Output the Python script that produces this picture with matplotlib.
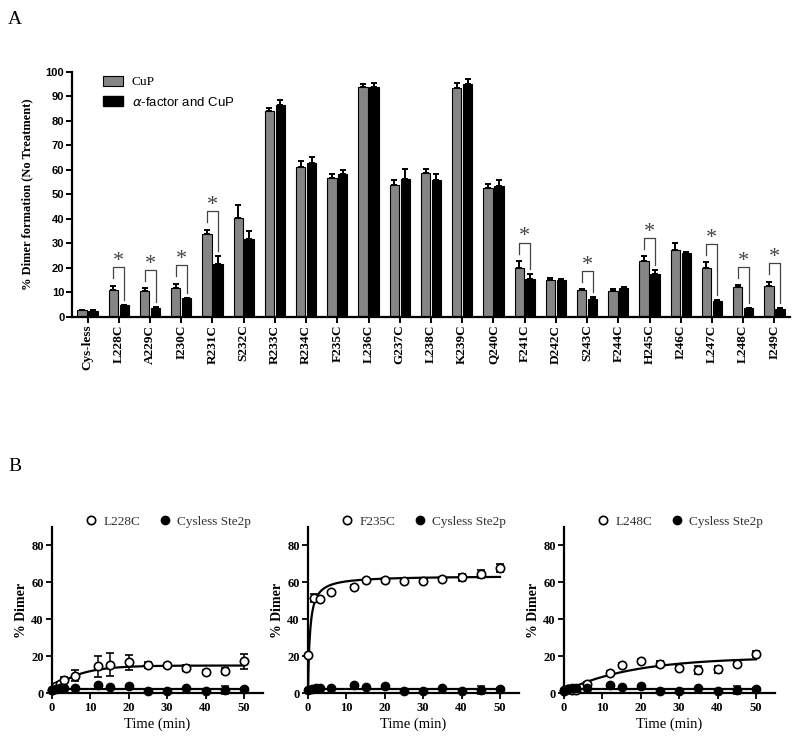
import numpy as np
import matplotlib
matplotlib.use('Agg')
import matplotlib.pyplot as plt
from matplotlib.patches import Patch
from matplotlib.lines import Line2D

# ---------------- Panel A data ----------------
mutants = ["Cys-less", "L228C", "A229C", "I230C", "R231C", "S232C", "R233C",
           "R234C", "F235C", "L236C", "G237C", "L238C", "K239C", "Q240C",
           "F241C", "D242C", "S243C", "F244C", "H245C", "I246C", "L247C",
           "L248C", "I249C"]
cup = [2.7, 11.2, 10.5, 12.0, 33.8, 40.2, 84.0, 61.3, 56.6, 93.7, 54.0, 58.6,
       93.3, 52.6, 20.2, 15.1, 11.0, 10.8, 22.9, 27.5, 19.8, 12.1, 12.5]
cup_err = [0.3, 1.6, 1.3, 1.6, 1.9, 5.7, 1.1, 2.2, 1.8, 1.4, 1.9, 1.9,
           2.0, 1.6, 2.7, 0.8, 0.4, 0.7, 2.0, 2.6, 2.6, 0.8, 1.9]
alpha_cup = [2.6, 4.8, 3.8, 7.6, 21.5, 31.7, 86.7, 62.9, 58.2, 93.7, 56.4, 56.1,
             95.1, 53.4, 15.5, 15.3, 7.2, 11.7, 17.4, 26.0, 6.5, 3.5, 3.4]
alpha_err = [0.3, 0.3, 0.3, 0.3, 3.5, 3.2, 1.9, 2.2, 1.8, 1.8, 3.8, 2.2,
             1.9, 2.5, 2.0, 0.3, 0.8, 0.4, 1.8, 0.7, 0.5, 0.3, 0.3]
significant = ["L228C", "A229C", "I230C", "R231C", "F241C", "S243C",
               "H245C", "L247C", "L248C", "I249C"]

# ---------------- Panel B data ----------------
times = [0, 1, 2, 3, 6, 12, 15, 20, 25, 30, 35, 40, 45, 50]
l228c = [1.8, 4.0, 4.9, 7.2, 9.4, 14.5, 15.4, 16.8, 15.4, 15.5, 13.6, 11.4, 12.1, 17.2]
l228c_err = [0.5, 0.8, 1.0, 1.5, 3.0, 5.5, 6.3, 4.0, 1.5, 0.5, 1.5, 1.0, 1.5, 4.0]
times_f235 = [0, 1.5, 3, 6, 12, 15, 20, 25, 30, 35, 40, 45, 50]
f235c = [20.8, 51.5, 51.0, 54.7, 57.5, 61.2, 61.4, 60.9, 60.5, 62.0, 62.7, 64.5, 67.8]
f235c_err = [0.5, 2.0, 0.8, 0.8, 1.0, 0.8, 0.8, 1.5, 0.8, 0.8, 2.0, 2.0, 2.0]
l248c = [1.4, 2.2, 1.6, 1.8, 5.1, 10.8, 15.5, 17.7, 15.9, 13.6, 12.6, 13.0, 15.9, 21.1]
l248c_err = [0.5, 0.5, 0.5, 0.5, 0.8, 1.0, 0.8, 0.8, 1.5, 1.0, 2.0, 2.0, 0.8, 1.5]
cysless = [1.8, 2.2, 2.7, 2.7, 2.7, 4.3, 3.4, 4.0, 1.3, 1.1, 2.7, 1.3, 1.8, 2.3]
cysless_err = [0.3, 0.3, 0.3, 0.3, 0.3, 0.5, 0.4, 0.4, 0.3, 0.3, 0.4, 0.3, 2.0, 0.4]
cysless_level = 2.5
# fitted-curve parameters
l228c_fit = dict(y0=1.5, plateau=15.0, k=0.15)      # one-phase association
f235c_fit = dict(bmax=63.5, kd=0.5)                 # hyperbola
l248c_fit = dict(y0=1.0, plateau=19.5, k=0.0555)    # one-phase association

SERIF = 'Liberation Serif'
SANS = 'Liberation Sans'

fig = plt.figure(figsize=(8.0, 7.45), dpi=100)

# ================= Panel A =================
ax = fig.add_axes([0.09, 0.5745, 0.8975, 0.3289])
x = np.arange(len(mutants))
off = 0.175
w = 0.30
ax.bar(x - off, cup, width=w, color='#858585', edgecolor='black', linewidth=0.8,
       yerr=[np.zeros(len(cup)), cup_err], capsize=2.5,
       error_kw=dict(elinewidth=1.4, capthick=1.4, ecolor='black'), zorder=2)
ax.bar(x + off, alpha_cup, width=w, color='black', edgecolor='black', linewidth=0.8,
       yerr=[np.zeros(len(alpha_cup)), alpha_err], capsize=2.5,
       error_kw=dict(elinewidth=1.4, capthick=1.4, ecolor='black'), zorder=2)

for name in significant:
    i = mutants.index(name)
    g = cup[i] + cup_err[i]
    b = alpha_cup[i] + alpha_err[i]
    top = g + 7.5
    ax.plot([i - off, i - off, i + off, i + off], [g + 3.0, top, top, b + 2.0],
            color='#444444', lw=0.9, zorder=3)
    ax.text(i, top - 1.6, '*', ha='center', va='bottom', fontsize=16,
            family=SERIF, color='#444444')

ax.set_xlim(-0.5, len(mutants) - 0.5)
ax.set_ylim(0, 100)
ax.set_yticks(np.arange(0, 101, 10))
ax.set_xticks(x)
ax.set_xticklabels(mutants, rotation=90, family=SERIF, fontweight='bold', fontsize=9.5)
for t in ax.get_yticklabels():
    t.set_family(SANS)
    t.set_fontweight('bold')
    t.set_fontsize(8)
for s in ['top', 'right']:
    ax.spines[s].set_visible(False)
for s in ['left', 'bottom']:
    ax.spines[s].set_linewidth(1.6)
ax.tick_params(axis='both', direction='out', width=1.4, length=4, pad=1.5)
ax.set_ylabel('% Dimer formation (No Treatment)', family=SERIF, fontweight='bold',
              fontsize=9, labelpad=9)

handles = [Patch(facecolor='#858585', edgecolor='black', linewidth=0.8),
           Patch(facecolor='black', edgecolor='black')]
leg = ax.legend(handles, ['CuP', r'$\alpha$-factor and CuP'], loc='upper left',
                bbox_to_anchor=(0.043, 0.985), frameon=False, fontsize=9.5,
                handlelength=1.5, handleheight=0.8, handletextpad=0.7,
                labelspacing=0.55, borderpad=0, borderaxespad=0)
leg.get_texts()[0].set_family(SERIF)
leg.get_texts()[1].set_family(SANS)

# ================= Panel B =================
def one_phase(t, y0, plateau, k):
    return y0 + (plateau - y0) * (1 - np.exp(-k * t))

def hyperbola(t, bmax, kd):
    return bmax * t / (kd + t)

tt = np.linspace(0, 50, 400)
panels = [
    ("L228C", times, l228c, l228c_err, one_phase(tt, **l228c_fit)),
    ("F235C", times_f235, f235c, f235c_err, hyperbola(tt, **f235c_fit)),
    ("L248C", times, l248c, l248c_err, one_phase(tt, **l248c_fit)),
]
lefts = [0.065, 0.385, 0.705]
for left, (name, tx, vals, errs, fit) in zip(lefts, panels):
    bx = fig.add_axes([left, 0.0694, 0.264, 0.2236])
    bx.plot(tt, fit, color='black', lw=1.6, zorder=3)
    bx.plot([0, 50], [cysless_level, cysless_level], color='black', lw=1.6, zorder=3)
    bx.errorbar(tx, vals, yerr=errs, fmt='o', mfc='white', mec='black', mew=1.2,
                ms=6, ecolor='black', elinewidth=1.1, capsize=3, capthick=1.1,
                zorder=4, clip_on=False)
    bx.errorbar(times, cysless, yerr=cysless_err, fmt='o', mfc='black', mec='black',
                ms=6, ecolor='black', elinewidth=1.1, capsize=3, capthick=1.1,
                zorder=4, clip_on=False)
    bx.set_xlim(0, 55)
    bx.set_ylim(0, 90)
    bx.set_xticks([0, 10, 20, 30, 40, 50])
    bx.set_yticks([0, 20, 40, 60, 80])
    for s in ['top', 'right']:
        bx.spines[s].set_visible(False)
    for s in ['left', 'bottom']:
        bx.spines[s].set_linewidth(1.6)
    bx.tick_params(axis='both', direction='out', width=1.3, length=4, pad=2)
    for t in bx.get_xticklabels() + bx.get_yticklabels():
        t.set_family(SERIF)
        t.set_fontweight('bold')
        t.set_fontsize(9)
    bx.set_xlabel('Time (min)', family=SERIF, fontsize=10.5, labelpad=3)
    bx.set_ylabel('% Dimer', family=SERIF, fontweight='bold', fontsize=10, labelpad=2)
    h = [Line2D([], [], marker='o', ls='none', mfc='white', mec='black', mew=1.2, ms=6),
         Line2D([], [], marker='o', ls='none', mfc='black', mec='black', ms=6)]
    lg = bx.legend(h, [name, 'Cysless Ste2p'], loc='center left',
                   bbox_to_anchor=(0.155, 1.03), ncol=2, frameon=False,
                   fontsize=9.5, handlelength=1.0, handletextpad=0.4,
                   columnspacing=1.4, borderpad=0, borderaxespad=0)
    for t in lg.get_texts():
        t.set_family(SERIF)
        t.set_color('#333333')

fig.text(0.01, 0.962, 'A', family=SERIF, fontsize=14, va='bottom')
fig.text(0.01, 0.362, 'B', family=SERIF, fontsize=14, va='bottom')

fig.savefig('out.png', dpi=100)
